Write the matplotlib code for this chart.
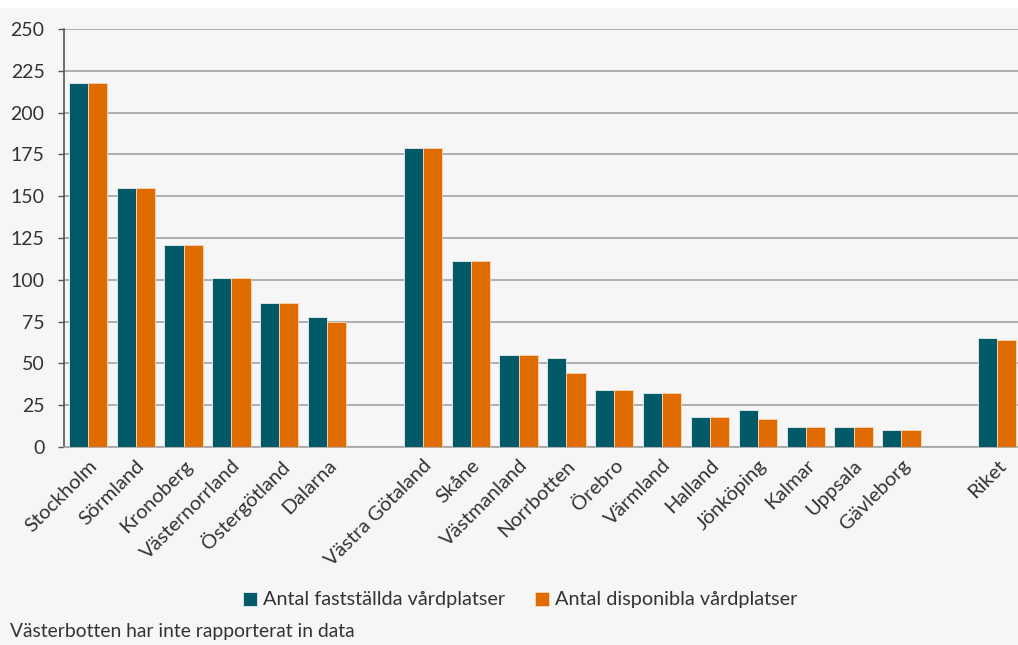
import matplotlib
matplotlib.use("Agg")
import matplotlib.pyplot as plt
import numpy as np

# Regions, in display order; empty strings leave gaps between the groups
regions = ["Stockholm", "Sörmland", "Kronoberg", "Västernorrland", "Östergötland", "Dalarna",
           "",
           "Västra Götaland", "Skåne", "Västmanland", "Norrbotten", "Örebro", "Värmland",
           "Halland", "Jönköping", "Kalmar", "Uppsala", "Gävleborg",
           "",
           "Riket"]
faststallda = [218, 155, 121, 101, 86, 78,
               None,
               179, 111, 55, 53, 34, 32, 18, 22, 12, 12, 10,
               None,
               65]
disponibla = [218, 155, 121, 101, 86, 75,
              None,
              179, 111, 55, 44, 34, 32, 18, 17, 12, 12, 10,
              None,
              64]
y_ticks = [0, 25, 50, 75, 100, 125, 150, 175, 200, 225, 250]
series_names = ["Antal fastställda vårdplatser", "Antal disponibla vårdplatser"]
footnote = "Västerbotten har inte rapporterat in data"

TEAL = "#025a69"
ORANGE = "#e06c00"
BG = "#f6f6f6"
TEXT = "#333333"

plt.rcParams["font.family"] = ["Lato", "DejaVu Sans"]

W, H = 1018, 645
fig = plt.figure(figsize=(W / 100, H / 100), dpi=100, facecolor=BG)

# white strip along the top edge
fig.patches.append(plt.Rectangle((0, 1 - 8 / H), 1, 8 / H, transform=fig.transFigure,
                                 facecolor="white", edgecolor="none", zorder=0))

ax = fig.add_axes([64 / W, (H - 447) / H, 957 / W, 418 / H])
ax.set_facecolor(BG)

x = np.arange(len(regions))
bw = 0.4
f_vals = np.array([np.nan if v is None else v for v in faststallda], dtype=float)
d_vals = np.array([np.nan if v is None else v for v in disponibla], dtype=float)
ax.bar(x - bw / 2, f_vals, width=bw, color=TEAL, edgecolor="#e8eef0", linewidth=0.6,
       label=series_names[0], zorder=3)
ax.bar(x + bw / 2, d_vals, width=bw, color=ORANGE, edgecolor="#f5d9c0", linewidth=0.6,
       label=series_names[1], zorder=3)

ax.set_xlim(-0.5, len(regions) - 0.5)
ax.set_ylim(0, 250)
ax.set_yticks(y_ticks)
ax.set_yticklabels([str(t) for t in y_ticks], fontsize=14, color=TEXT)
ax.yaxis.grid(True, color="#a3a3a3", linewidth=1.2, zorder=0)
ax.set_axisbelow(True)
ax.tick_params(axis="y", length=4, width=1, color="#555555", pad=10)

ax.set_xticks(x)
ax.set_xticklabels(regions, rotation=45, ha="right", rotation_mode="anchor",
                   fontsize=14.5, color=TEXT)
ax.tick_params(axis="x", length=0, pad=7)

for side in ("top", "right"):
    ax.spines[side].set_visible(False)
ax.spines["left"].set_color("#555555")
ax.spines["left"].set_linewidth(1.2)
ax.spines["bottom"].set_color("#a3a3a3")
ax.spines["bottom"].set_linewidth(1.2)

fig.legend(loc="center", bbox_to_anchor=(520 / W, 1 - 600 / H), ncol=2, frameon=False,
           fontsize=14.3, handlelength=0.7, handleheight=0.7, handletextpad=0.3,
           columnspacing=1.5, labelcolor=TEXT)

fig.text(10 / W, 1 - 632 / H, footnote, fontsize=13.9, color=TEXT, va="center", ha="left")

fig.savefig("out.png", dpi=100, facecolor=BG)
